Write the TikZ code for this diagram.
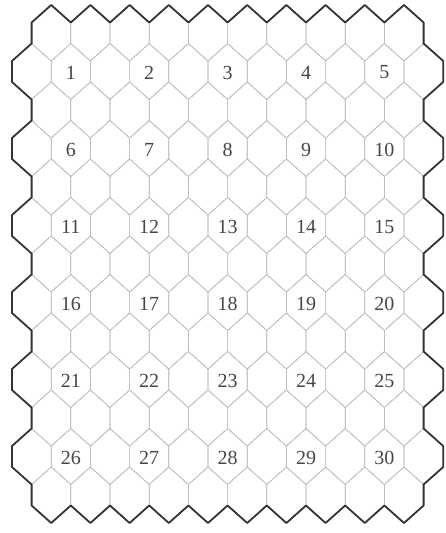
\documentclass[tikz,border=0pt]{standalone}
\usepackage{tikz}
\usepackage{fontspec}
\setmainfont{Liberation Serif}

\newcommand{\hexcell}[2]{%
  \draw[cell] (#1,#2) ++(0,-28) -- ++(19.6,17.5) -- ++(0,21) -- ++(-19.6,17.5)
    -- ++(-19.6,-17.5) -- ++(0,-21) -- cycle;}

\begin{document}
\begin{tikzpicture}[
    x=1pt, y=-1pt,
    cell/.style={draw=gray!50, line width=0.7pt, line join=round},
    rim/.style={draw=black!80, line width=1.8pt, line join=round},
    num/.style={font=\fontsize{20}{20}\selectfont, text=black!72, inner sep=1pt}
]
    \useasboundingbox (0,0) rectangle (445,533);

    \foreach \r in {0,2,...,12} \foreach \k in {0,...,9}
        \hexcell{51.2+39.2*\k}{33+38.5*\r};
    \foreach \r in {1,3,...,11} \foreach \k in {0,...,10}
        \hexcell{31.6+39.2*\k}{33+38.5*\r};

    \draw[rim] (31.6,22.5)
        \foreach \k in {0,...,9} { -- ({51.2+39.2*\k},5) -- ({70.8+39.2*\k},22.5) }
        \foreach \r in {0,...,12} { -- ({423.6+19.6*mod(\r,2)},{22.5+38.5*\r})
                                    -- ({423.6+19.6*mod(\r,2)},{43.5+38.5*\r}) }
        \foreach \k in {9,...,0} { -- ({51.2+39.2*\k},523) -- ({31.6+39.2*\k},505.5) }
        \foreach \r in {12,...,0} { -- ({31.6-19.6*mod(\r,2)},{43.5+38.5*\r})
                                    -- ({31.6-19.6*mod(\r,2)},{22.5+38.5*\r}) }
        -- cycle;

    \foreach \r [count=\i from 0] in {1,3,...,11}
        \foreach \k [count=\j] in {1,3,5,7,9} {
            \pgfmathtruncatemacro\n{5*\i+\j}
            \node[num] (hex\n) at ({31.6+39.2*\k},{34+38.5*\r}) {\n};
        }
\end{tikzpicture}
\end{document}
